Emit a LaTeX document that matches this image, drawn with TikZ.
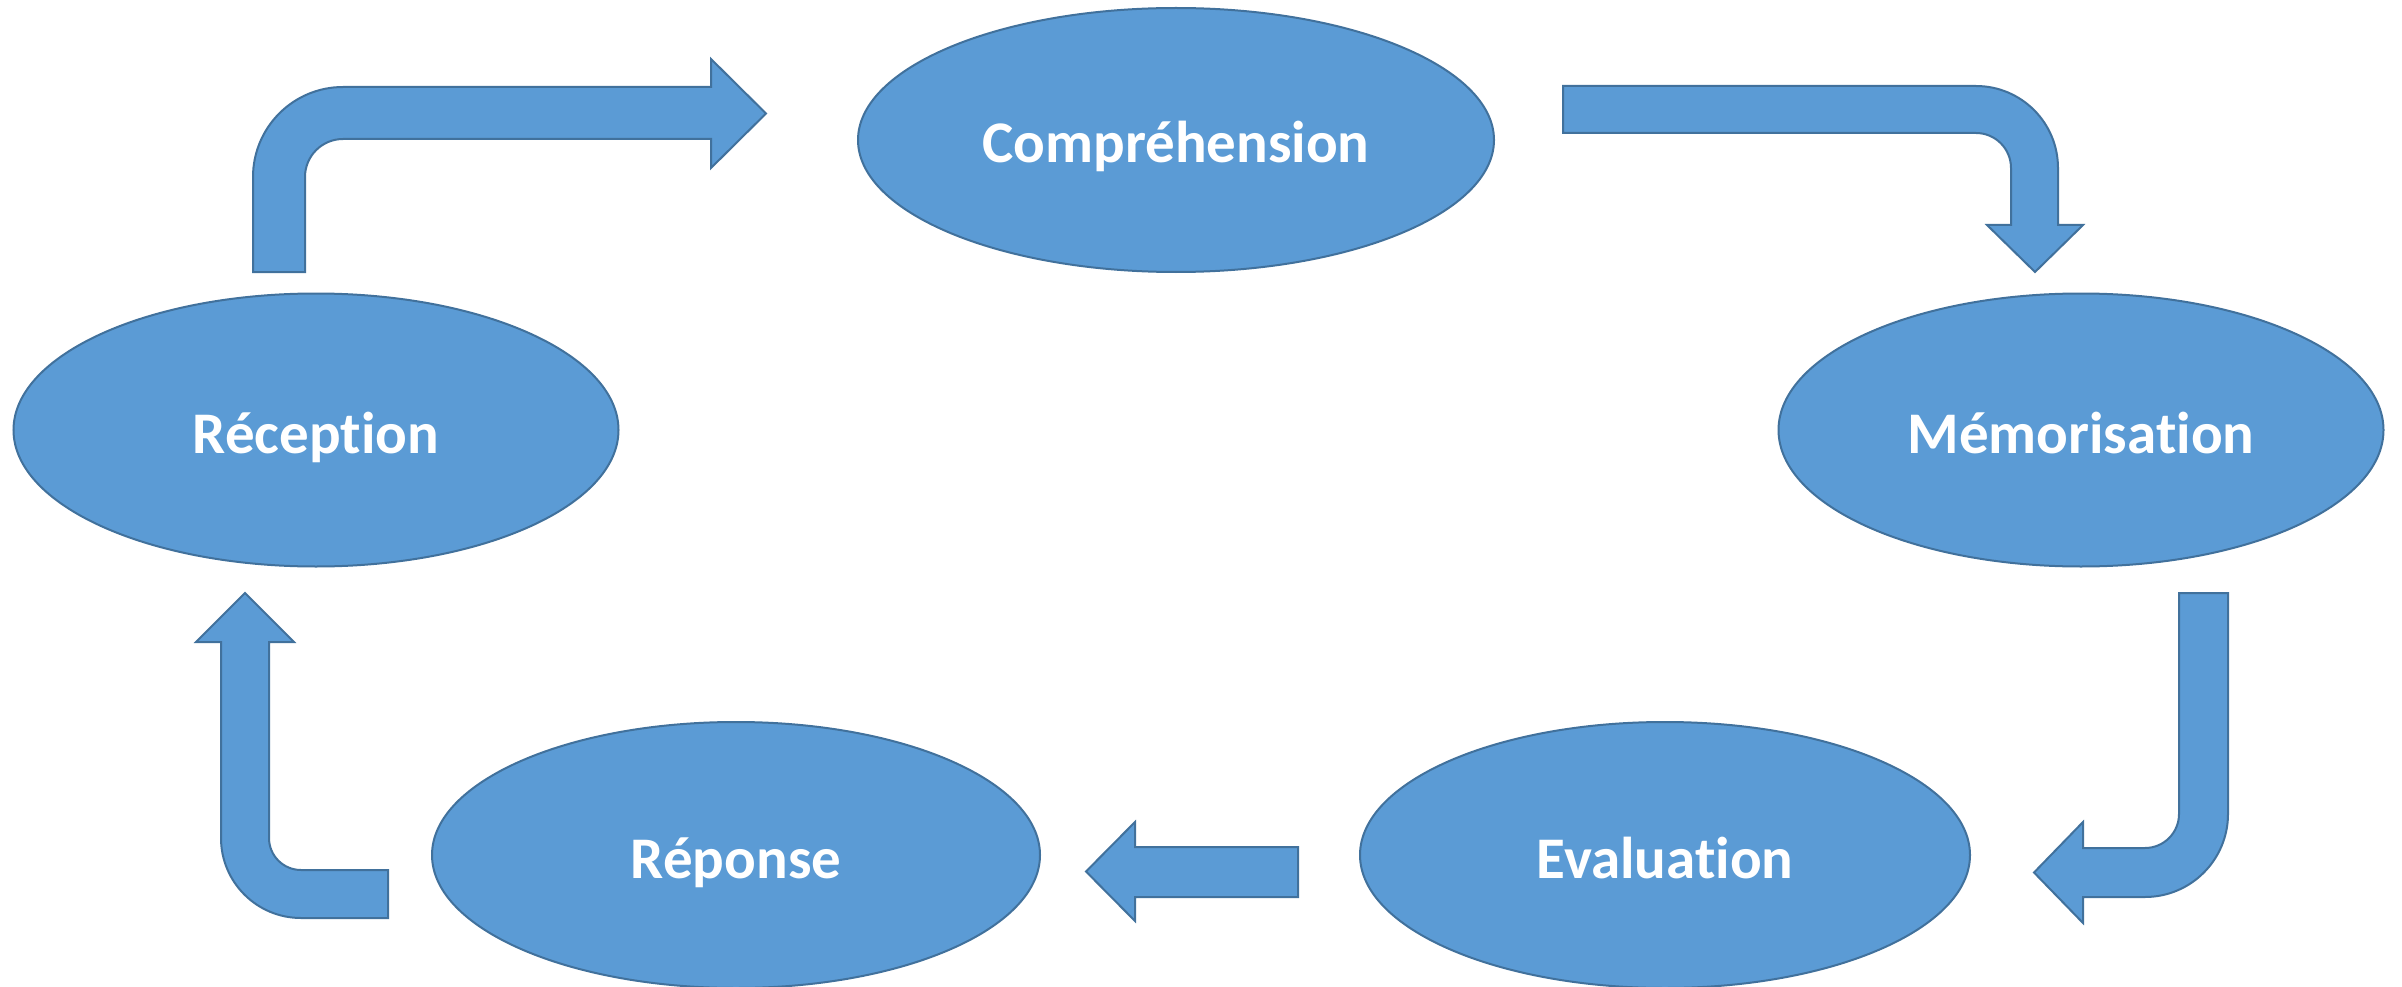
\documentclass[tikz,border=0pt]{standalone}
\usepackage{fontspec}
\setmainfont{Carlito}[Ligatures=NoCommon]
\usetikzlibrary{shapes.geometric}
\definecolor{boxfill}{HTML}{5B9BD5}
\definecolor{boxline}{HTML}{41719C}
\tikzset{
  ell/.style={ellipse, draw=boxline, fill=boxfill, line width=2pt, inner sep=0pt,
    text=white, text height=46pt, text depth=0pt,
    font=\fontsize{59}{66}\selectfont\bfseries},
  blockarrow/.style={draw=boxline, fill=boxfill, line width=2pt, line join=miter}
}
\begin{document}
\begin{tikzpicture}[x=1pt,y=-1pt]
\useasboundingbox[fill=white] (0,0) rectangle (2402,987);
% ellipses
\node[ell, minimum width=636pt, minimum height=264pt] (comp) at (1176,140) {Compréhension};
\node[ell, minimum width=605pt, minimum height=273pt] (recep) at (316,430) {Réception};
\node[ell, minimum width=605pt, minimum height=273pt] (memo) at (2081,430) {Mémorisation};
\node[ell, minimum width=608pt, minimum height=266pt] (repo) at (736,855) {Réponse};
\node[ell, minimum width=610pt, minimum height=266pt] (eval) at (1665,855) {Evaluation};
% arrow Réception -> Compréhension
\draw[blockarrow] (253,272) -- (253,177) arc[start angle=180,end angle=270,radius=90]
  -- (711,87) -- (711,59) -- (766,113.5) -- (711,168) -- (711,139)
  -- (343,139) arc[start angle=270,end angle=180,radius=38] -- (305,272) -- cycle;
% arrow Compréhension -> Mémorisation
\draw[blockarrow] (1563,86) -- (1976,86) arc[start angle=270,end angle=360,radius=82]
  -- (2058,225) -- (2083,225) -- (2035,272) -- (1987,225) -- (2011,225)
  -- (2011,168) arc[start angle=0,end angle=-90,radius=35] -- (1563,133) -- cycle;
% arrow Mémorisation -> Evaluation
\draw[blockarrow] (2179,593) -- (2228,593) -- (2228,814) arc[start angle=0,end angle=90,radius=83]
  -- (2083,897) -- (2083,923) -- (2034,872.5) -- (2083,822) -- (2083,848)
  -- (2145,848) arc[start angle=90,end angle=0,radius=34] -- cycle;
% arrow Evaluation -> Réponse
\draw[blockarrow] (1086,871.5) -- (1135,822) -- (1135,847) -- (1298,847) -- (1298,897)
  -- (1135,897) -- (1135,921) -- cycle;
% arrow Réponse -> Réception
\draw[blockarrow] (245,593) -- (294,642) -- (269,642) -- (269,838) arc[start angle=180,end angle=90,radius=32]
  -- (388,870) -- (388,918) -- (301,918) arc[start angle=90,end angle=180,radius=80]
  -- (221,642) -- (196,642) -- cycle;
\end{tikzpicture}
\end{document}
